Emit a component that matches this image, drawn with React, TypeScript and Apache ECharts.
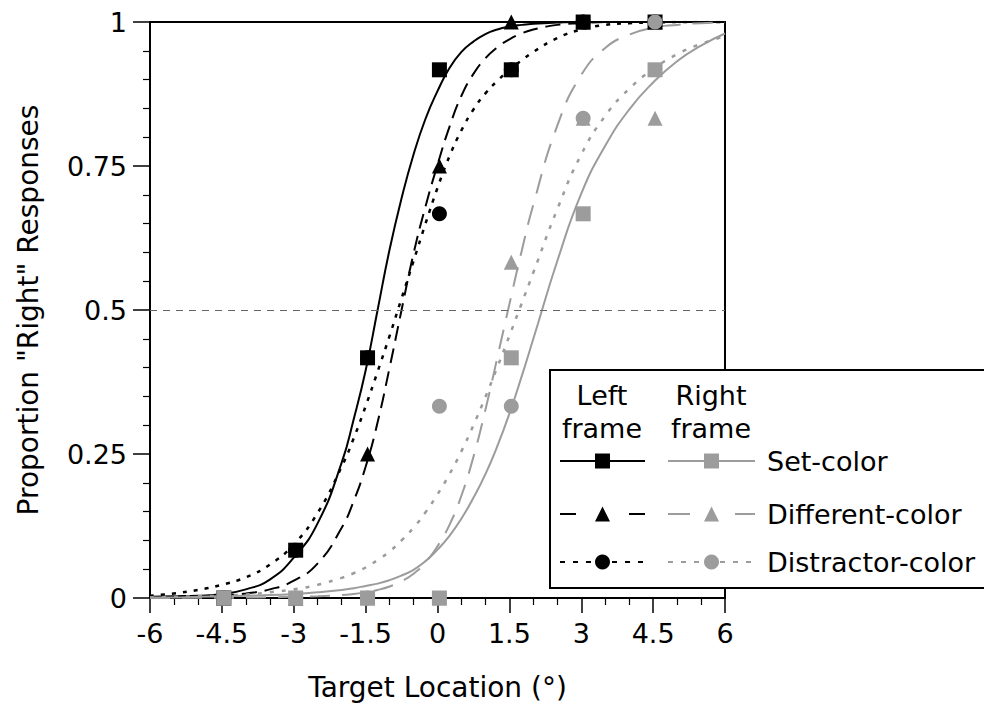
import React, { useEffect, useRef } from 'react';
import * as echarts from 'echarts';

// ---------- data ----------
const curveX = [-6, -5.5, -5, -4.5, -4, -3.5, -3, -2.5, -2, -1.75, -1.5, -1.25, -1, -0.75, -0.5, -0.25, 0, 0.25, 0.5, 0.75, 1, 1.25, 1.5, 1.75, 2, 2.5, 3, 3.5, 4, 4.5, 5, 5.5, 6];

const leftSetFit = [0.002, 0.003, 0.004, 0.007, 0.015, 0.032, 0.07, 0.13, 0.235, 0.31, 0.395, 0.5, 0.605, 0.694, 0.77, 0.832, 0.88, 0.92, 0.948, 0.966, 0.979, 0.987, 0.992, 0.995, 0.997, 0.999, 1, 1, 1, 1, 1, 1, 1];
const leftDiffFit = [0.0005, 0.001, 0.002, 0.004, 0.008, 0.015, 0.03, 0.06, 0.122, 0.168, 0.228, 0.305, 0.4, 0.5, 0.598, 0.68, 0.752, 0.818, 0.872, 0.91, 0.937, 0.956, 0.97, 0.98, 0.987, 0.995, 0.998, 1, 1, 1, 1, 1, 1];
const leftDistrFit = [0.004, 0.008, 0.014, 0.023, 0.036, 0.058, 0.093, 0.148, 0.228, 0.277, 0.333, 0.393, 0.455, 0.52, 0.585, 0.65, 0.712, 0.767, 0.812, 0.848, 0.876, 0.898, 0.917, 0.933, 0.948, 0.972, 0.987, 0.995, 0.998, 0.999, 1, 1, 1];
const rightSetFit = [0.001, 0.001, 0.002, 0.003, 0.004, 0.005, 0.007, 0.01, 0.014, 0.017, 0.021, 0.025, 0.031, 0.039, 0.049, 0.064, 0.084, 0.108, 0.138, 0.174, 0.215, 0.264, 0.32, 0.383, 0.45, 0.585, 0.702, 0.785, 0.848, 0.895, 0.932, 0.959, 0.98];
const rightDiffFit = [0.0001, 0.0002, 0.0003, 0.0005, 0.0008, 0.0012, 0.002, 0.003, 0.005, 0.007, 0.01, 0.014, 0.02, 0.029, 0.042, 0.062, 0.09, 0.127, 0.178, 0.245, 0.327, 0.418, 0.51, 0.6, 0.683, 0.82, 0.908, 0.955, 0.978, 0.99, 0.995, 0.998, 0.999];
const rightDistrFit = [0.001, 0.002, 0.003, 0.004, 0.006, 0.01, 0.015, 0.023, 0.035, 0.043, 0.053, 0.066, 0.081, 0.1, 0.122, 0.149, 0.18, 0.215, 0.255, 0.3, 0.349, 0.401, 0.455, 0.51, 0.565, 0.675, 0.77, 0.837, 0.884, 0.918, 0.944, 0.962, 0.975];

const markerX = [-4.46, -2.96, -1.46, 0.04, 1.54, 3.04, 4.54];
const leftSet = [0, 0.083, 0.417, 0.917, 0.917, 1, 1];
const leftDiff = [0, 0, 0.25, 0.75, 1, 1, 1];
const leftDistr = [0, 0.083, 0.417, 0.667, 0.917, 1, 1];
const rightSet = [0, 0, 0, 0, 0.417, 0.667, 0.917];
const rightDiff = [0, 0, 0, 0, 0.583, 0.833, 0.833];
const rightDistr = [0, 0, 0, 0.333, 0.333, 0.833, 1];

const chanceLevel = 0.5;
const conditionLabels = ['Set-color', 'Different-color', 'Distractor-color'];
const frameHeaders = [['Left', 'frame'], ['Right', 'frame']];
const xTitle = 'Target Location (°)';
const yTitle = 'Proportion "Right" Responses';

// ---------- styles ----------
const FONT = '"DejaVu Sans", sans-serif';
const BLACK = '#000000';
const GRAY = '#9c9c9c';

type Cond = { fit: number[]; pts: number[]; symbol: string; size: number; color: string; dash: any; lw: number };
const conds: Cond[] = [
  { fit: leftSetFit, pts: leftSet, symbol: 'rect', size: 15, color: BLACK, dash: 'solid', lw: 2 },
  { fit: leftDiffFit, pts: leftDiff, symbol: 'triangle', size: 15, color: BLACK, dash: [15, 8], lw: 2 },
  { fit: leftDistrFit, pts: leftDistr, symbol: 'circle', size: 15, color: BLACK, dash: [4, 7], lw: 2.5 },
  { fit: rightSetFit, pts: rightSet, symbol: 'rect', size: 15, color: GRAY, dash: 'solid', lw: 2 },
  { fit: rightDiffFit, pts: rightDiff, symbol: 'triangle', size: 15, color: GRAY, dash: [20, 12], lw: 2 },
  { fit: rightDistrFit, pts: rightDistr, symbol: 'circle', size: 15, color: GRAY, dash: [4, 8], lw: 2.5 },
];

function legendMarker(symbol: string, cx: number, cy: number, color: string) {
  if (symbol === 'rect') {
    return { type: 'rect', z: 102, shape: { x: cx - 7.5, y: cy - 7.5, width: 15, height: 15 }, style: { fill: color } };
  }
  if (symbol === 'triangle') {
    return { type: 'polygon', z: 102, shape: { points: [[cx, cy - 7.5], [cx + 7.5, cy + 7.5], [cx - 7.5, cy + 7.5]] }, style: { fill: color } };
  }
  return { type: 'circle', z: 102, shape: { cx, cy, r: 7.5 }, style: { fill: color } };
}

function buildLegend() {
  const els: any[] = [];
  els.push({ type: 'rect', z: 100, shape: { x: 550, y: 370, width: 480, height: 218 }, style: { fill: '#fff', stroke: '#000', lineWidth: 2 } });
  const colCenters = [602, 711];
  frameHeaders.forEach((h, c) => {
    h.forEach((t, k) => {
      els.push({ type: 'text', z: 101, x: colCenters[c], y: 395 + k * 33, style: { text: t, fontFamily: FONT, fontSize: 27, fill: '#000', align: 'center', verticalAlign: 'middle' } });
    });
  });
  const rowY = [461, 514, 562];
  const sampleX = [[560, 645], [668, 755]];
  conds.forEach((cd, i) => {
    const col = i < 3 ? 0 : 1;
    const row = i % 3;
    const [x1, x2] = sampleX[col];
    let dash: any = null;
    if (row === 1) dash = col === 0 ? [16, 53] : [22, 45];
    if (row === 2) dash = [5, 8];
    els.push({ type: 'line', z: 101, shape: { x1, y1: rowY[row], x2, y2: rowY[row] }, style: { stroke: cd.color, lineWidth: 2, lineDash: dash } });
    els.push(legendMarker(cd.symbol, (x1 + x2) / 2, rowY[row], cd.color));
  });
  conditionLabels.forEach((t, r) => {
    els.push({ type: 'text', z: 101, x: 767, y: rowY[r], style: { text: t, fontFamily: FONT, fontSize: 27, fill: '#000', align: 'left', verticalAlign: 'middle' } });
  });
  return els;
}

export default function App() {
  const ref = useRef<HTMLDivElement>(null);
  useEffect(() => {
    const chart = echarts.init(ref.current!, null, { renderer: 'svg' });
    const series: any[] = [];
    conds.forEach((cd, i) => {
      series.push({
        type: 'line',
        data: curveX.map((x, j) => [x, cd.fit[j]]),
        showSymbol: false,
        symbol: 'none',
        smooth: 0.5,
        silent: true,
        z: 2,
        lineStyle: { color: cd.color, width: cd.lw, type: cd.dash, cap: 'butt' },
        markLine: i === 0 ? {
          silent: true,
          symbol: 'none',
          label: { show: false },
          lineStyle: { color: '#666', width: 1.2, type: [7, 6] },
          data: [{ yAxis: chanceLevel }],
        } : undefined,
      });
    });
    conds.forEach((cd) => {
      series.push({
        type: 'scatter',
        data: markerX.map((x, j) => [x, cd.pts[j]]),
        symbol: cd.symbol,
        symbolSize: cd.size,
        itemStyle: { color: cd.color, opacity: 1 },
        silent: true,
        clip: false,
        z: 3,
      });
    });
    chart.setOption({
      animation: false,
      backgroundColor: '#fff',
      grid: { left: 150, right: 259, top: 22, bottom: 107, show: true, borderColor: '#000', borderWidth: 2, containLabel: false, outerBoundsMode: 'none' },
      xAxis: {
        type: 'value', min: -6, max: 6, interval: 1.5,
        name: xTitle, nameLocation: 'middle', nameGap: 75,
        nameTextStyle: { fontFamily: FONT, fontSize: 28, color: '#000' },
        axisLine: { show: true, onZero: false, lineStyle: { color: '#000', width: 2 } },
        axisTick: { show: true, length: 15, lineStyle: { color: '#000', width: 1.5 } },
        minorTick: { show: true, splitNumber: 3, length: 7, lineStyle: { color: '#000', width: 1.2 } },
        axisLabel: { fontFamily: FONT, fontSize: 27, color: '#000', margin: 22 },
        splitLine: { show: false },
      },
      yAxis: {
        type: 'value', min: 0, max: 1, interval: 0.25,
        name: yTitle, nameLocation: 'middle', nameGap: 108, nameRotate: 90,
        nameTextStyle: { fontFamily: FONT, fontSize: 28, color: '#000' },
        axisLine: { show: true, onZero: false, lineStyle: { color: '#000', width: 2 } },
        axisTick: { show: true, length: 17, lineStyle: { color: '#000', width: 1.5 } },
        minorTick: { show: true, splitNumber: 5, length: 7, lineStyle: { color: '#000', width: 1.2 } },
        axisLabel: { fontFamily: FONT, fontSize: 27, color: '#000', margin: 23 },
        splitLine: { show: false },
      },
      series,
      graphic: buildLegend(),
    });
    return () => chart.dispose();
  }, []);
  return <div ref={ref} style={{ position: 'fixed', left: 0, top: 0, width: 984, height: 705, background: '#fff' }} />;
}
